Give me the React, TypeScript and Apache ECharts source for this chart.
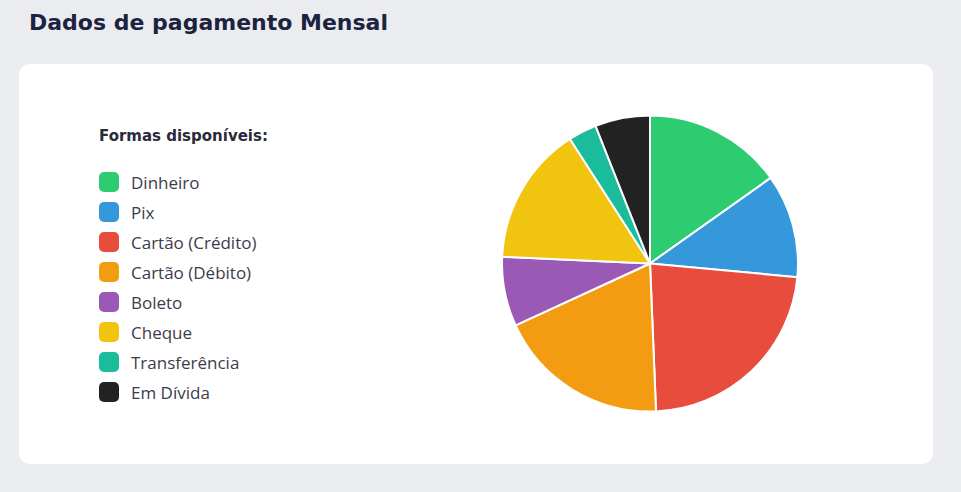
import React, { useEffect, useRef } from "react";
import * as echarts from "echarts";

const categories = [
  "Dinheiro",
  "Pix",
  "Cartão (Crédito)",
  "Cartão (Débito)",
  "Boleto",
  "Cheque",
  "Transferência",
  "Em Dívida",
];
const values = [152, 113, 229, 188, 76, 152, 31, 60];
const colors = ["#2ecc71", "#3498db", "#e74c3c", "#f39c12", "#9b59b6", "#f1c40f", "#1abc9c", "#222222"];
const pageTitle = "Dados de pagamento Mensal";
const legendTitle = "Formas disponíveis:";

export default function App() {
  const ref = useRef<HTMLDivElement>(null);
  useEffect(() => {
    document.body.style.margin = "0";
    const chart = echarts.init(ref.current!, null, { renderer: "svg" });
    chart.setOption({
      animation: false,
      backgroundColor: "#ebecf0",
      title: {
        text: pageTitle,
        left: 24,
        top: 6,
        textStyle: {
          fontFamily: "DejaVu Sans",
          fontWeight: "bold",
          fontSize: 22,
          color: "#1b2340",
        },
      },
      graphic: [
        {
          type: "rect",
          shape: { x: 19, y: 64, width: 914, height: 400, r: 10 },
          style: { fill: "#ffffff" },
          z: -1,
        },
        {
          type: "text",
          x: 99,
          y: 128,
          style: {
            text: legendTitle,
            fontFamily: "DejaVu Sans",
            fontWeight: "bold",
            fontSize: 15,
            fill: "#2a2a3a",
          },
        },
      ],
      legend: {
        orient: "vertical",
        left: 94,
        top: 167,
        itemWidth: 20,
        itemHeight: 20,
        itemGap: 10,
        icon: "roundRect",
        selectedMode: false,
        itemStyle: { borderWidth: 0 },
        textStyle: {
          fontFamily: "Open Sans",
          fontSize: 17,
          lineHeight: 20,
          color: "#3c3c4a",
          padding: [0, 0, 0, 7],
        },
        data: categories,
      },
      series: [
        {
          type: "pie",
          center: [650, 263.5],
          radius: 148,
          startAngle: 90,
          clockwise: true,
          label: { show: false },
          labelLine: { show: false },
          emphasis: { scale: false },
          itemStyle: { borderColor: "#ffffff", borderWidth: 2 },
          data: categories.map((name, i) => ({
            name,
            value: values[i],
            itemStyle: { color: colors[i] },
          })),
        },
      ],
    });
    return () => chart.dispose();
  }, []);
  return <div ref={ref} style={{ width: 961, height: 492 }} />;
}
